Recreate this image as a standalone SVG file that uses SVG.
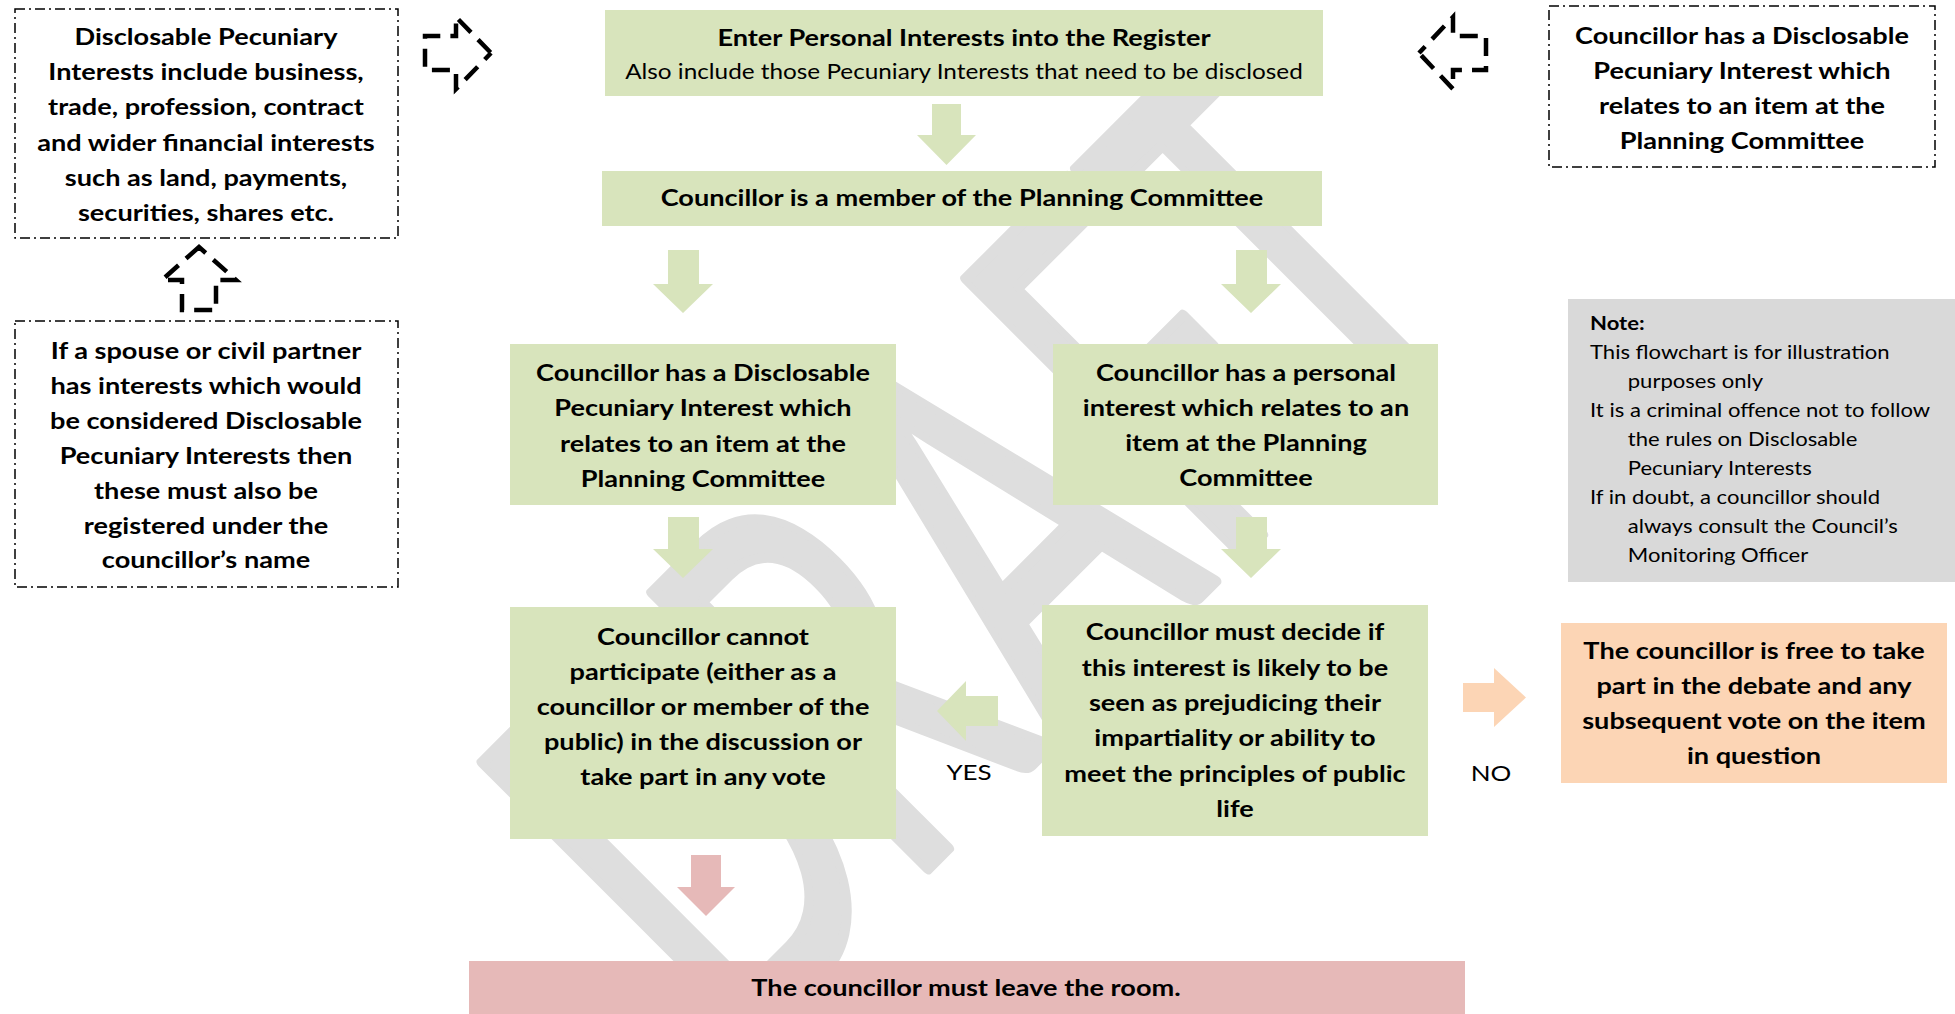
<svg xmlns="http://www.w3.org/2000/svg" width="1955" height="1014" viewBox="0 0 1955 1014">
<style>
  .bg{fill:#ffffff}
  .wm{fill:#dedede;stroke:#dedede;stroke-width:7;stroke-linejoin:round;font-family:Lato,"Liberation Sans",sans-serif;font-weight:400}
  .green{fill:#d8e4bc}
  .peach{fill:#fcd5b5}
  .pink{fill:#e6b9b8}
  .note{fill:#d9d9d9}
  .dd{fill:#ffffff;stroke:#000;stroke-width:1.5;stroke-dasharray:10 4 2 4}
  .t{font-family:Lato,"Liberation Sans",sans-serif;fill:#000;text-anchor:middle}
  .b{font-weight:700;font-size:23px}
  .r{font-weight:400;font-size:20.6px}
  .yn{font-weight:400;font-size:22px}
  .n{font-family:Lato,"Liberation Sans",sans-serif;fill:#000;font-size:18.7px}
  .darr{fill:none;stroke:#000;stroke-width:4.5;stroke-dasharray:18 10.1}
  .ga{fill:#d8e4bc}
  .pa{fill:#fcd5b5}
  .ra{fill:#e6b9b8}
</style>
<rect class="bg" x="0" y="0" width="1955" height="1014"/>
<g id="watermark">
  <text class="wm" font-size="335" transform="translate(480,765) rotate(-45) translate(0,390) scale(1,1.625)" x="-29 211 426 655 836" y="0">DRAFT</text>
</g>
<g id="connectors">
  <path class="darr" stroke-dashoffset="9" d="M199,247 L236,280 L216,280 L216,310 L182,310 L182,280 L162,280 Z"/>
  <path class="darr" stroke-dashoffset="9" d="M491,53 L456,89 L456,70 L425,70 L425,36 L456,36 L456,17 Z"/>
  <path class="darr" stroke-dashoffset="9" d="M1419,53 L1453,17 L1453,36 L1486,36 L1486,70 L1453,70 L1453,89 Z"/>
  <polygon class="ga" points="932,104 961,104 961,135 976,135 946.5,165 917,135 932,135"/>
  <polygon class="ga" points="668,250 699,250 699,284 713,284 683,313 653,284 668,284"/>
  <polygon class="ga" points="1236,250 1267,250 1267,284 1281,284 1251,313 1221,284 1236,284"/>
  <polygon class="ga" points="668,517 699,517 699,549 713,549 683,578 653,549 668,549"/>
  <polygon class="ga" points="1236,517 1267,517 1267,549 1281,549 1251,578 1221,549 1236,549"/>
  <polygon class="ga" points="998,696 966,696 966,681 937,711 966,741 966,726 998,726"/>
  <polygon class="pa" points="1463,683 1494,683 1494,668 1526,697.5 1494,727 1494,712 1463,712"/>
  <polygon class="ra" points="691,855 721,855 721,887 735,887 706,916 677,887 691,887"/>
  <g transform="translate(969,0) scale(1.18,1)"><text class="t yn" x="0" y="780">YES</text></g>
  <g transform="translate(1491,0) scale(1.18,1)"><text class="t yn" x="0" y="781">NO</text></g>
</g>
<g id="node-dpi-info">
  <rect class="dd" x="15" y="9" width="383" height="229"/>
  <g transform="translate(206,0) scale(1.18,1)">
    <text class="t b" x="0" y="45">Disclosable Pecuniary</text>
    <text class="t b" x="0" y="80">Interests include business,</text>
    <text class="t b" x="0" y="115">trade, profession, contract</text>
    <text class="t b" x="0" y="151">and wider financial interests</text>
    <text class="t b" x="0" y="186">such as land, payments,</text>
    <text class="t b" x="0" y="221">securities, shares etc.</text>
  </g>
</g>
<g id="node-spouse">
  <rect class="dd" x="15" y="321" width="383" height="266"/>
  <g transform="translate(206,0) scale(1.18,1)">
    <text class="t b" x="0" y="359">If a spouse or civil partner</text>
    <text class="t b" x="0" y="394">has interests which would</text>
    <text class="t b" x="0" y="429">be considered Disclosable</text>
    <text class="t b" x="0" y="464">Pecuniary Interests then</text>
    <text class="t b" x="0" y="499">these must also be</text>
    <text class="t b" x="0" y="534">registered under the</text>
    <text class="t b" x="0" y="568">councillor’s name</text>
  </g>
</g>
<g id="node-enter">
  <rect class="green" x="605" y="10" width="718" height="86"/>
  <g transform="translate(964,0) scale(1.18,1)">
    <text class="t b" x="0" y="46">Enter Personal Interests into the Register</text>
    <text class="t r" x="0" y="79">Also include those Pecuniary Interests that need to be disclosed</text>
  </g>
</g>
<g id="node-dpi-top">
  <rect class="dd" x="1549" y="6" width="386" height="161"/>
  <g transform="translate(1742,0) scale(1.18,1)">
    <text class="t b" x="0" y="44">Councillor has a Disclosable</text>
    <text class="t b" x="0" y="79">Pecuniary Interest which</text>
    <text class="t b" x="0" y="114">relates to an item at the</text>
    <text class="t b" x="0" y="149">Planning Committee</text>
  </g>
</g>
<g id="node-member">
  <rect class="green" x="602" y="171" width="720" height="55"/>
  <g transform="translate(962,0) scale(1.18,1)">
    <text class="t b" x="0" y="206">Councillor is a member of the Planning Committee</text>
  </g>
</g>
<g id="node-dpi">
  <rect class="green" x="510" y="344" width="386" height="161"/>
  <g transform="translate(703,0) scale(1.18,1)">
    <text class="t b" x="0" y="381">Councillor has a Disclosable</text>
    <text class="t b" x="0" y="416">Pecuniary Interest which</text>
    <text class="t b" x="0" y="452">relates to an item at the</text>
    <text class="t b" x="0" y="487">Planning Committee</text>
  </g>
</g>
<g id="node-personal">
  <rect class="green" x="1053" y="344" width="385" height="161"/>
  <g transform="translate(1246,0) scale(1.18,1)">
    <text class="t b" x="0" y="381">Councillor has a personal</text>
    <text class="t b" x="0" y="416">interest which relates to an</text>
    <text class="t b" x="0" y="451">item at the Planning</text>
    <text class="t b" x="0" y="486">Committee</text>
  </g>
</g>
<g id="node-note">
  <rect class="note" x="1568" y="299" width="387" height="283"/>
  <g transform="translate(1590,0) scale(1.18,1)">
    <text class="n" x="0" y="330" font-weight="700">Note:</text>
    <text class="n" x="0" y="359">This flowchart is for illustration</text>
    <text class="n" x="32" y="388">purposes only</text>
    <text class="n" x="0" y="417">It is a criminal offence not to follow</text>
    <text class="n" x="32" y="446">the rules on Disclosable</text>
    <text class="n" x="32" y="475">Pecuniary Interests</text>
    <text class="n" x="0" y="504">If in doubt, a councillor should</text>
    <text class="n" x="32" y="533">always consult the Council’s</text>
    <text class="n" x="32" y="562">Monitoring Officer</text>
  </g>
</g>
<g id="node-cannot">
  <rect class="green" x="510" y="607" width="386" height="232"/>
  <g transform="translate(703,0) scale(1.18,1)">
    <text class="t b" x="0" y="645">Councillor cannot</text>
    <text class="t b" x="0" y="680">participate (either as a</text>
    <text class="t b" x="0" y="715">councillor or member of the</text>
    <text class="t b" x="0" y="750">public) in the discussion or</text>
    <text class="t b" x="0" y="785">take part in any vote</text>
  </g>
</g>
<g id="node-decide">
  <rect class="green" x="1042" y="605" width="386" height="231"/>
  <g transform="translate(1235,0) scale(1.18,1)">
    <text class="t b" x="0" y="640">Councillor must decide if</text>
    <text class="t b" x="0" y="676">this interest is likely to be</text>
    <text class="t b" x="0" y="711">seen as prejudicing their</text>
    <text class="t b" x="0" y="746">impartiality or ability to</text>
    <text class="t b" x="0" y="782">meet the principles of public</text>
    <text class="t b" x="0" y="817">life</text>
  </g>
</g>
<g id="node-free">
  <rect class="peach" x="1561" y="623" width="386" height="160"/>
  <g transform="translate(1754,0) scale(1.18,1)">
    <text class="t b" x="0" y="659">The councillor is free to take</text>
    <text class="t b" x="0" y="694">part in the debate and any</text>
    <text class="t b" x="0" y="729">subsequent vote on the item</text>
    <text class="t b" x="0" y="764">in question</text>
  </g>
</g>
<g id="node-leave">
  <rect class="pink" x="469" y="961" width="996" height="53"/>
  <g transform="translate(966,0) scale(1.18,1)">
    <text class="t b" x="0" y="996">The councillor must leave the room.</text>
  </g>
</g>
</svg>
